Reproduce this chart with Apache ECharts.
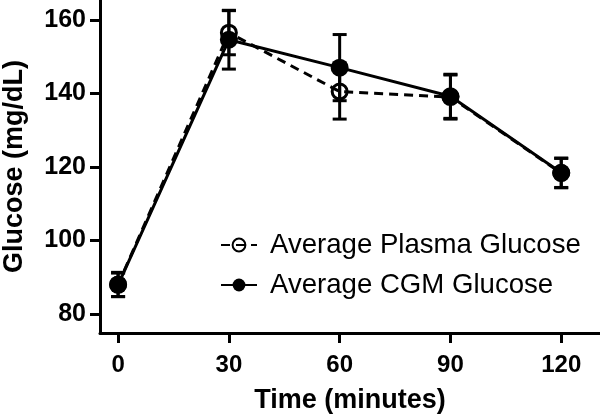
<!DOCTYPE html>
<html><head><meta charset="utf-8">
<script src="https://cdn.jsdelivr.net/npm/echarts@6/dist/echarts.min.js"></script>
<style>html,body{margin:0;padding:0;background:#fff}#c{width:600px;height:414px}</style>
</head><body><div id="c"></div>
<script>
const times = [0, 30, 60, 90, 120];
const plasmaMean = [88, 156.5, 140.5, 139, 118.3];
const plasmaErr = [3.3, 6, 7.5, 6, 4];
const cgmMean = [87.9, 154.6, 147, 139.2, 118.4];
const cgmErr = [3.2, 8, 9, 6, 4];
const xTicks = [0, 30, 60, 90, 120];
const yTicks = [80, 100, 120, 140, 160];

const FONT = '"Liberation Sans", Arial, sans-serif';
function pairs(m) { return times.map((t, i) => [t, m[i]]); }
function errData(m, e) { return times.map((t, i) => [t, m[i] - e[i], m[i] + e[i]]); }
function errSeries(m, e, z) {
  return {
    type: 'custom', silent: true, z: z,
    data: errData(m, e),
    renderItem: function (params, api) {
      const x = api.value(0);
      const lo = api.coord([x, api.value(1)]);
      const hi = api.coord([x, api.value(2)]);
      const w = 7;
      const st = { stroke: '#000', lineWidth: 3 };
      return { type: 'group', children: [
        { type: 'line', shape: { x1: lo[0], y1: lo[1], x2: hi[0], y2: hi[1] }, style: st },
        { type: 'line', shape: { x1: lo[0] - w, y1: lo[1], x2: lo[0] + w, y2: lo[1] }, style: st },
        { type: 'line', shape: { x1: hi[0] - w, y1: hi[1], x2: hi[0] + w, y2: hi[1] }, style: st }
      ]};
    }
  };
}

const chart = echarts.init(document.getElementById('c'), null, { renderer: 'canvas' });
chart.setOption({
  animation: false,
  backgroundColor: '#fff',
  textStyle: { fontFamily: FONT },
  grid: { left: 100, right: 0, top: 0, bottom: 81, containLabel: false, outerBoundsMode: 'none' },
  legend: {
    orient: 'vertical', left: 215, top: 226, itemWidth: 36, itemHeight: 16, itemGap: 12,
    textStyle: { fontFamily: FONT, fontSize: 27.6, color: '#000', padding: [0, 0, 0, 8] },
    data: ['Average Plasma Glucose', 'Average CGM Glucose']
  },
  xAxis: {
    type: 'value', min: -4.9, max: 130.5,
    name: 'Time (minutes)', nameLocation: 'middle', nameGap: 54,
    nameTextStyle: { fontFamily: FONT, fontSize: 27, fontWeight: 'bold', color: '#000' },
    axisLine: { show: true, onZero: false, lineStyle: { color: '#000', width: 3 } },
    axisTick: { show: true, customValues: xTicks, length: 10, lineStyle: { color: '#000', width: 3 } },
    axisLabel: { customValues: xTicks, fontFamily: FONT, fontSize: 24, fontWeight: 'bold', color: '#000', margin: 20 },
    splitLine: { show: false }
  },
  yAxis: {
    type: 'value', min: 74.8, max: 165.4,
    name: 'Glucose (mg/dL)', nameLocation: 'middle', nameGap: 72,
    nameTextStyle: { fontFamily: FONT, fontSize: 27, fontWeight: 'bold', color: '#000' },
    axisLine: { show: true, onZero: false, lineStyle: { color: '#000', width: 3 } },
    axisTick: { show: true, customValues: yTicks, length: 10, lineStyle: { color: '#000', width: 3 } },
    axisLabel: { customValues: yTicks, fontFamily: FONT, fontSize: 25, fontWeight: 'bold', color: '#000', margin: 14 },
    splitLine: { show: false }
  },
  series: [
    errSeries(plasmaMean, plasmaErr, 2),
    errSeries(cgmMean, cgmErr, 2),
    {
      name: 'Average CGM Glucose', type: 'line', z: 3,
      data: pairs(cgmMean),
      symbol: 'circle', symbolSize: 18,
      lineStyle: { color: '#000', width: 3, type: 'solid' },
      itemStyle: { color: '#000' }
    },
    {
      name: 'Average Plasma Glucose', type: 'line', z: 4,
      data: pairs(plasmaMean),
      symbol: 'circle', symbolSize: 15,
      lineStyle: { color: '#000', width: 3, type: [9, 6] },
      itemStyle: { color: 'rgba(255,255,255,0)', borderColor: '#000', borderWidth: 3 }
    }
  ]
});
</script></body></html>
